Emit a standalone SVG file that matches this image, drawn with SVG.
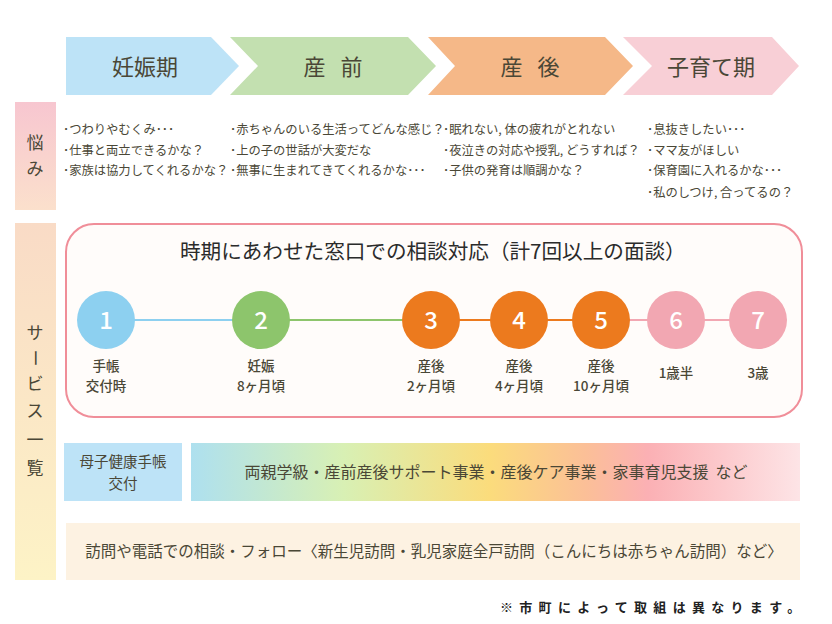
<svg xmlns="http://www.w3.org/2000/svg" width="832" height="624" viewBox="0 0 832 624">
<style>
text{font-family:"Noto Sans CJK JP","Noto Sans",sans-serif;fill:#4a4736}
.ph{font-size:22px;text-anchor:middle}
.w{font-size:12.3px}
.side{font-size:17px;text-anchor:middle}
.num{font-size:24px;fill:#fff;text-anchor:middle;font-weight:500}
.lab{font-size:13.5px;text-anchor:middle;font-weight:500}
.line{stroke-width:2;fill:none}
</style>
<defs>
<linearGradient id="gW" x1="0" y1="0" x2="0" y2="1"><stop offset="0" stop-color="#f7c6d0"/><stop offset="1" stop-color="#fbe0cc"/></linearGradient>
<linearGradient id="gS" x1="0" y1="0" x2="0" y2="1"><stop offset="0" stop-color="#f9dbc6"/><stop offset="1" stop-color="#fdf3c6"/></linearGradient>
<linearGradient id="gB" x1="0" y1="0" x2="1" y2="0">
<stop offset="0" stop-color="#aee0ef"/><stop offset="0.25" stop-color="#d8f0b4"/><stop offset="0.49" stop-color="#fbdc7c"/><stop offset="0.65" stop-color="#fbbf98"/><stop offset="0.75" stop-color="#fbb0b4"/><stop offset="1" stop-color="#fde4e6"/>
</linearGradient>
</defs>
<rect width="832" height="624" fill="#ffffff"/>
<g id="phase-ninshin"><path d="M66,37 H211 L239,66 L211,95 H66 Z" fill="#bde3f7"/><text class="ph" x="145" y="75">妊娠期</text></g>
<g id="phase-sanzen"><path d="M230,37 H408 L436,66 L408,95 H230 L258,66 Z" fill="#c3e0b0"/><text class="ph" x="333" y="75" word-spacing="10">産 前</text></g>
<g id="phase-sango"><path d="M428,37 H605 L633,66 L605,95 H428 L455,66 Z" fill="#f5b888"/><text class="ph" x="530" y="75" word-spacing="10">産 後</text></g>
<g id="phase-kosodate"><path d="M623,37 H772 L799,66 L772,95 H623 L652,66 Z" fill="#f8cfd6"/><text class="ph" x="711" y="75">子育て期</text></g>
<g id="worry-label"><rect x="15" y="102" width="41" height="108" fill="url(#gW)"/><text class="side" x="35" y="149" font-size="19">悩</text><text class="side" x="35" y="175" font-size="19">み</text></g>
<g id="worries">
<text class="w" x="63" y="134">･つわりやむくみ･･･</text>
<text class="w" x="63" y="155">･仕事と両立できるかな？</text>
<text class="w" x="63" y="175">･家族は協力してくれるかな？</text>
<text class="w" x="230" y="134">･赤ちゃんのいる生活ってどんな感じ？</text>
<text class="w" x="230" y="155">･上の子の世話が大変だな</text>
<text class="w" x="230" y="175">･無事に生まれてきてくれるかな･･･</text>
<text class="w" x="443" y="134">･眠れない, 体の疲れがとれない</text>
<text class="w" x="443" y="155">･夜泣きの対応や授乳, どうすれば？</text>
<text class="w" x="443" y="175">･子供の発育は順調かな？</text>
<text class="w" x="647" y="134">･息抜きしたい･･･</text>
<text class="w" x="647" y="155">･ママ友がほしい</text>
<text class="w" x="647" y="175">･保育園に入れるかな･･･</text>
<text class="w" x="647" y="197">･私のしつけ, 合ってるの？</text>
</g>
<g id="service-label"><rect x="15" y="223" width="41" height="357" fill="url(#gS)"/>
<text class="side" x="35" y="339">サ</text>
<text class="side" transform="translate(35,358) rotate(90)" y="6">ー</text>
<text class="side" x="35" y="390">ビ</text>
<text class="side" x="35" y="417">ス</text>
<text class="side" x="35" y="446">一</text>
<text class="side" x="35" y="474">覧</text>
</g>
<g id="consult-box"><rect x="66" y="224" width="736" height="193" rx="28" fill="#fffcfa" stroke="#f08e99" stroke-width="2"/>
<text x="180" y="259" font-size="20.6" style="fill:#2b2b2b">時期にあわせた窓口での相談対応（計7回以上の面談）</text></g>
<g id="connectors">
<line class="line" x1="106" y1="320" x2="261" y2="320" stroke="#8dd0f0"/>
<line class="line" x1="261" y1="320" x2="431" y2="320" stroke="#8dc56c"/>
<line class="line" x1="431" y1="320" x2="601" y2="320" stroke="#ec7a1e"/>
<line class="line" x1="601" y1="320" x2="758" y2="320" stroke="#f2a7b2"/>
</g>
<g id="n1"><circle cx="106" cy="320" r="29" fill="#8dd0f0"/><text class="num" x="106" y="329">1</text><text class="lab" x="106" y="371">手帳</text><text class="lab" x="106" y="391">交付時</text></g>
<g id="n2"><circle cx="261" cy="320" r="29" fill="#8dc56c"/><text class="num" x="261" y="329">2</text><text class="lab" x="261" y="371">妊娠</text><text class="lab" x="261" y="391">8ヶ月頃</text></g>
<g id="n3"><circle cx="431" cy="320" r="29" fill="#ec7a1e"/><text class="num" x="431" y="329">3</text><text class="lab" x="431" y="371">産後</text><text class="lab" x="431" y="391">2ヶ月頃</text></g>
<g id="n4"><circle cx="519" cy="320" r="29" fill="#ec7a1e"/><text class="num" x="519" y="329">4</text><text class="lab" x="519" y="371">産後</text><text class="lab" x="519" y="391">4ヶ月頃</text></g>
<g id="n5"><circle cx="601" cy="320" r="29" fill="#ec7a1e"/><text class="num" x="601" y="329">5</text><text class="lab" x="601" y="371">産後</text><text class="lab" x="601" y="391">10ヶ月頃</text></g>
<g id="n6"><circle cx="676" cy="320" r="29" fill="#f2a7b2"/><text class="num" x="676" y="329">6</text><text class="lab" x="676" y="378">1歳半</text></g>
<g id="n7"><circle cx="758" cy="320" r="29" fill="#f2a7b2"/><text class="num" x="758" y="329">7</text><text class="lab" x="758" y="378">3歳</text></g>
<g id="boshi"><rect x="64" y="443" width="118" height="58" fill="#bde3f7"/><text x="123" y="467" font-size="14.5" text-anchor="middle">母子健康手帳</text><text x="123" y="489" font-size="14.5" text-anchor="middle">交付</text></g>
<g id="support"><rect x="191" y="443" width="609" height="58" fill="url(#gB)"/><text x="496" y="478" font-size="16" text-anchor="middle" xml:space="preserve">両親学級・産前産後サポート事業・産後ケア事業・家事育児支援  など</text></g>
<g id="visit"><rect x="66" y="523" width="734" height="57" fill="#fdf2e2"/><text x="434" y="557" font-size="15.5" text-anchor="middle">訪問や電話での相談・フォロー〈新生児訪問・乳児家庭全戸訪問（こんにちは赤ちゃん訪問）など〉</text></g>
<text x="500" y="612" font-size="13" font-weight="bold" letter-spacing="6.3" style="fill:#222">※市町によって取組は異なります。</text>
</svg>
